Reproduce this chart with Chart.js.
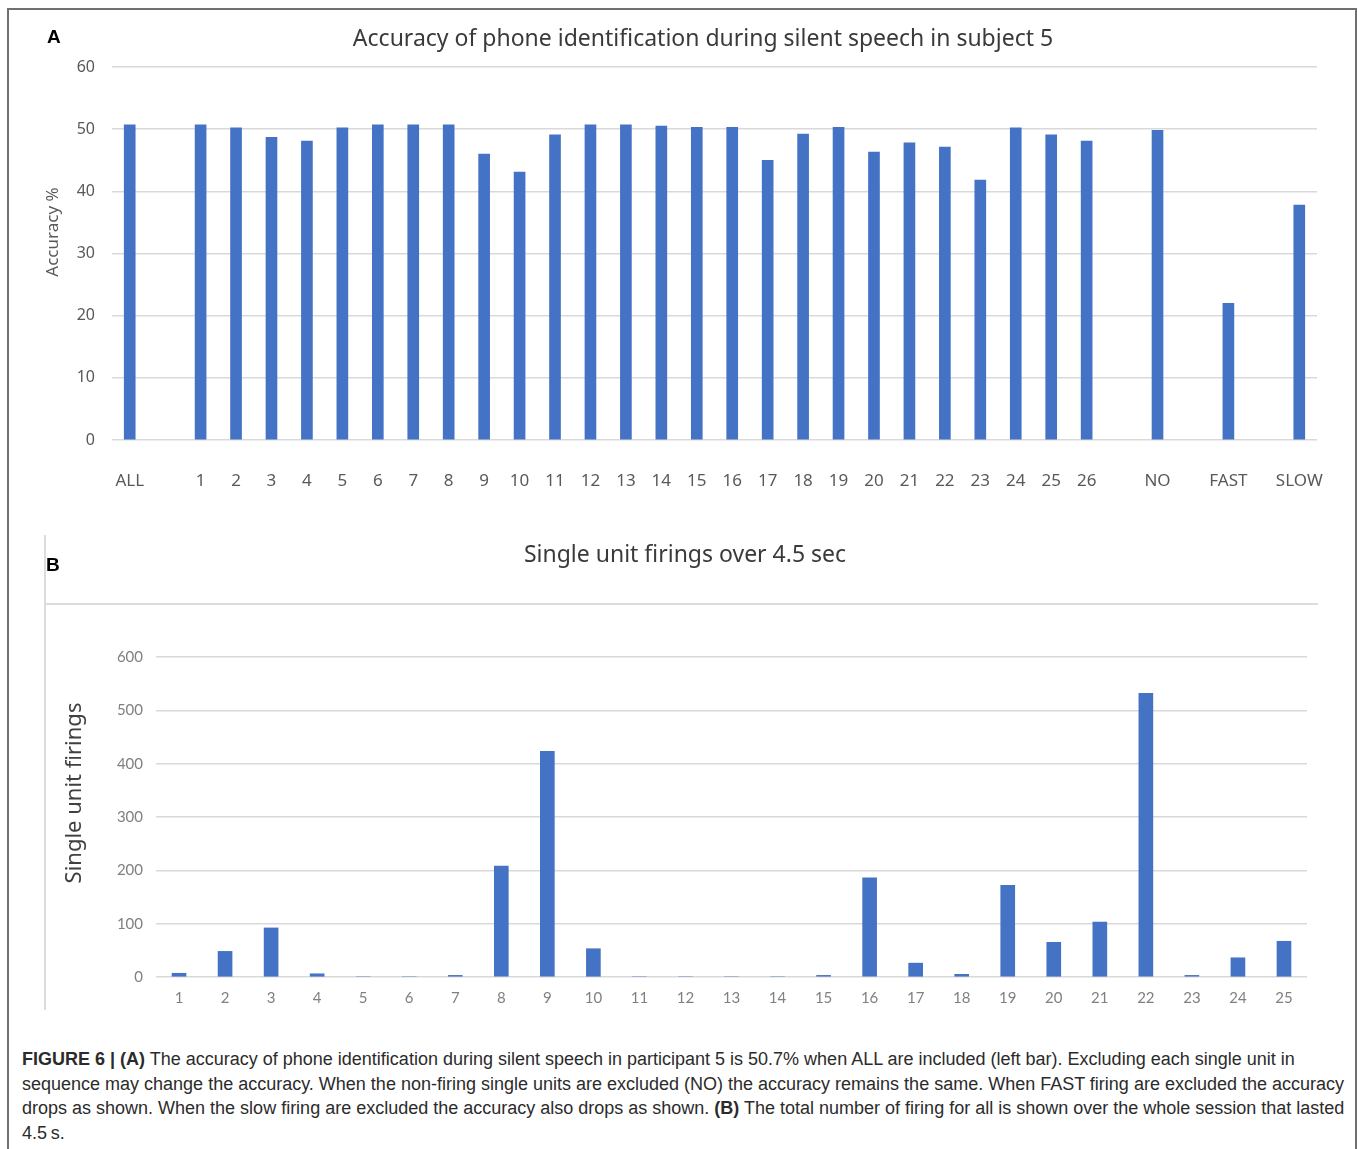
<!DOCTYPE html>
<html>
<head>
<meta charset="utf-8">
<script src="https://cdn.jsdelivr.net/npm/chart.js@4.4.1/dist/chart.umd.min.js"></script>
<style>
  body { margin: 0; width: 1358px; height: 1149px; overflow: hidden; background: #fff; position: relative; }
  canvas { position: absolute; left: 0; }
  #chartA { top: 0; }
  #chartB { top: 520px; }
  .frame { position: absolute; left: 7px; top: 8px; width: 1346px; height: 1170px; border: 2px solid #707070; }
  .letter { position: absolute; font: bold 19px "Liberation Sans", Arial, sans-serif; color: #000; line-height: 20px; }
  .title { position: absolute; white-space: nowrap; transform: translate(-50%, -50%); font: 23px "Noto Sans", sans-serif; color: #3a3a3a; }
  .ytitle { position: absolute; white-space: nowrap; transform: translate(-50%, -50%) rotate(-90deg); font-family: "Noto Sans", sans-serif; }
  .lineB { position: absolute; background: #dcdcdc; }
  .caption { position: absolute; left: 22px; top: 1047px; font: 18px/24.6px "Liberation Sans", Arial, sans-serif; color: #2b2b2b; white-space: nowrap; }
</style>
</head>
<body>
<canvas id="chartA" width="1358" height="510"></canvas>
<canvas id="chartB" width="1358" height="500"></canvas>

<div class="lineB" style="left:44px; top:535px; width:2px; height:475px;"></div>
<div class="lineB" style="left:44px; top:603px; width:1274px; height:2px;"></div>

<div class="letter" style="left:47px; top:27px;">A</div>
<div class="letter" style="left:46px; top:555px;">B</div>
<div class="title" style="left:703px; top:37px;">Accuracy of phone identification during silent speech in subject 5</div>
<div class="title" style="left:685px; top:553px;">Single unit firings over 4.5 sec</div>
<div class="ytitle" style="left:51px; top:232px; font-size:17px; color:#595959;">Accuracy %</div>
<div class="ytitle" style="left:72px; top:793px; font-size:22px; color:#404040;">Single unit firings</div>

<div class="caption">
  <div><b>FIGURE 6 | (A)</b> The accuracy of phone identification during silent speech in participant 5 is 50.7% when ALL are included (left bar). Excluding each single unit in</div>
  <div>sequence may change the accuracy. When the non-firing single units are excluded (NO) the accuracy remains the same. When FAST firing are excluded the accuracy</div>
  <div>drops as shown. When the slow firing are excluded the accuracy also drops as shown. <b>(B)</b> The total number of firing for all is shown over the whole session that lasted</div>
  <div>4.5&thinsp;s.</div>
</div>
<div class="frame"></div>

<script>
// panneau A : precision par unite exclue (les '' sont des espaces vides)
const accLabels = ['ALL', '', '1', '2', '3', '4', '5', '6', '7', '8', '9', '10', '11', '12', '13',
  '14', '15', '16', '17', '18', '19', '20', '21', '22', '23', '24', '25', '26', '', 'NO', '', 'FAST', '', 'SLOW'];
const accValues = [50.7, null, 50.7, 50.2, 48.7, 48.1, 50.2, 50.7, 50.7, 50.7, 46.0, 43.1, 49.1, 50.7, 50.7,
  50.5, 50.3, 50.3, 45.0, 49.2, 50.3, 46.3, 47.8, 47.1, 41.8, 50.2, 49.1, 48.1, null, 49.8, null, 22.0, null, 37.8];
const accTicks = [0, 10, 20, 30, 40, 50, 60];

// panneau B : nombre de decharges par unite
const unitLabels = ['1', '2', '3', '4', '5', '6', '7', '8', '9', '10', '11', '12', '13',
  '14', '15', '16', '17', '18', '19', '20', '21', '22', '23', '24', '25'];
const firingValues = [7, 48, 92, 6, 0, 0, 3, 208, 423, 53, 0, 0, 0, 0, 3, 186, 26, 5, 172, 65, 103, 532, 3, 36, 67];
const firingTicks = [0, 100, 200, 300, 400, 500, 600];

const blue = '#4472c4';
const gridGray = '#d9d9d9';

const chartA = new Chart(document.getElementById('chartA'), {
  type: 'bar',
  data: {
    labels: accLabels,
    datasets: [{ data: accValues, backgroundColor: blue, barThickness: 11 }]
  },
  options: {
    responsive: false,
    animation: false,
    layout: { padding: { left: 0, right: 41, top: 67, bottom: 0 } },
    plugins: {
      legend: { display: false },
      tooltip: { enabled: false }
    },
    scales: {
      x: {
        grid: { display: false },
        border: { display: false },
        ticks: { autoSkip: false, maxRotation: 0, padding: 23, color: '#595959', font: { family: 'Noto Sans', size: 17 } },
        afterFit: (axis) => { axis.height = 70; }
      },
      y: {
        min: accTicks[0],
        max: accTicks[accTicks.length - 1],
        afterBuildTicks: (axis) => { axis.ticks = accTicks.map(v => ({ value: v })); },
        grid: { color: gridGray, lineWidth: 1.5, drawTicks: false },
        border: { display: false },
        ticks: { padding: 17, color: '#595959', font: { family: 'Noto Sans', size: 16 } },
        afterFit: (axis) => { axis.width = 112; }
      }
    }
  }
});

const chartB = new Chart(document.getElementById('chartB'), {
  type: 'bar',
  data: {
    labels: unitLabels,
    datasets: [{ data: firingValues, backgroundColor: blue, barThickness: 14 }]
  },
  options: {
    responsive: false,
    animation: false,
    layout: { padding: { left: 0, right: 51, top: 137, bottom: 0 } },
    plugins: {
      legend: { display: false },
      tooltip: { enabled: false }
    },
    scales: {
      x: {
        grid: { display: false },
        border: { display: false },
        ticks: { autoSkip: false, maxRotation: 0, padding: 4, color: '#808080', font: { family: 'Lato', size: 15 } },
        afterFit: (axis) => { axis.height = 43; }
      },
      y: {
        min: firingTicks[0],
        max: firingTicks[firingTicks.length - 1],
        afterBuildTicks: (axis) => { axis.ticks = firingTicks.map(v => ({ value: v })); },
        grid: { color: gridGray, lineWidth: 1.5, drawTicks: false },
        border: { display: false },
        ticks: { padding: 13, color: '#808080', font: { family: 'Lato', size: 15 } },
        afterFit: (axis) => { axis.width = 156; }
      }
    }
  }
});
</script>
</body>
</html>
